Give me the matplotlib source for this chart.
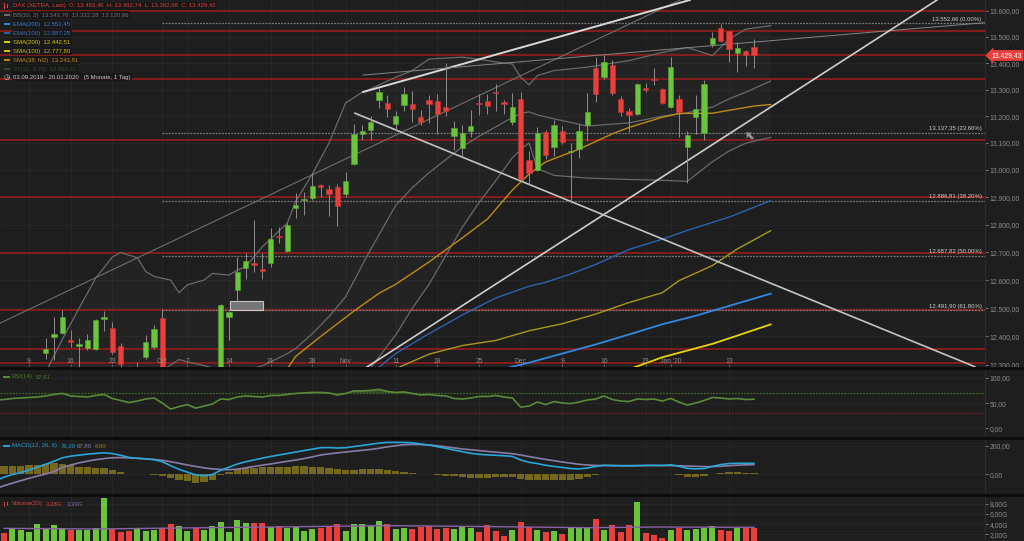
import numpy as np
import matplotlib
matplotlib.use("Agg")
import matplotlib.pyplot as plt
from matplotlib.patches import Rectangle, Polygon
from matplotlib.lines import Line2D
from matplotlib.ticker import FixedLocator, FixedFormatter, NullLocator, NullFormatter
import matplotlib.transforms as mtransforms

plt.rcParams['font.family'] = ['Liberation Sans', 'DejaVu Sans']

# ---------------- data ----------------
dates = ['03.09', '04.09', '05.09', '06.09', '09.09', '10.09', '11.09', '12.09', '13.09', '16.09',
         '17.09', '18.09', '19.09', '20.09', '23.09', '24.09', '25.09', '26.09', '27.09', '30.09',
         '01.10', '02.10', '04.10', '07.10', '08.10', '09.10', '10.10', '11.10', '14.10', '15.10',
         '16.10', '17.10', '18.10', '21.10', '22.10', '23.10', '24.10', '25.10', '28.10', '29.10',
         '30.10', '31.10', '01.11', '04.11', '05.11', '06.11', '07.11', '08.11', '11.11', '12.11',
         '13.11', '14.11', '15.11', '18.11', '19.11', '20.11', '21.11', '22.11', '25.11', '26.11',
         '27.11', '28.11', '29.11', '02.12', '03.12', '04.12', '05.12', '06.12', '09.12', '10.12',
         '11.12', '12.12', '13.12', '16.12', '17.12', '18.12', '19.12', '20.12', '23.12', '27.12',
         '30.12', '02.01', '03.01', '06.01', '07.01', '08.01', '09.01', '10.01', '13.01', '14.01',
         '15.01', '16.01']

opens = [11950, 12040, 12060, 12130, 12200, 12210, 12341, 12398, 12413, 12387,
         12368, 12360, 12357, 12462, 12431, 12367, 12285, 12240, 12328, 12363,
         12466, 12230, 11960, 12050, 12090, 11990, 12070, 12220, 12467, 12565,
         12645, 12660, 12640, 12661, 12760, 12705, 12860, 12888, 12896, 12945,
         12929, 12936, 12912, 13023, 13132, 13150, 13261, 13248, 13170, 13243,
         13244, 13198, 13262, 13258, 13235, 13126, 13082, 13144, 13250, 13256,
         13292, 13252, 13180, 13265, 13035, 13000, 13141, 13085, 13146, 13066,
         13077, 13166, 13382, 13347, 13392, 13263, 13221, 13208, 13305, 13340,
         13302, 13233, 13263, 13085, 13198, 13138, 13474, 13533, 13523, 13440,
         13446, 13463.46]
highs = [11985, 12045, 12160, 12210, 12250, 12280, 12394, 12470, 12493, 12423,
         12395, 12408, 12462, 12491, 12450, 12377, 12298, 12312, 12404, 12441,
         12496, 12250, 12040, 12150, 12120, 12110, 12200, 12515, 12490, 12684,
         12697, 12817, 12697, 12787, 12793, 12805, 12914, 12920, 12988, 12950,
         12944, 12950, 12992, 13172, 13166, 13200, 13305, 13278, 13221, 13311,
         13293, 13223, 13280, 13282, 13400, 13181, 13166, 13222, 13285, 13285,
         13321, 13262, 13289, 13290, 13070, 13158, 13150, 13185, 13165, 13099,
         13170, 13288, 13424, 13430, 13412, 13275, 13232, 13325, 13323, 13380,
         13305, 13424, 13278, 13144, 13278, 13335, 13520, 13550, 13523, 13481,
         13450, 13492.74]
lows = [11850, 11945, 12050, 12110, 12170, 12160, 12320, 12318, 12410, 12364,
        12294, 12352, 12352, 12419, 12338, 12270, 12160, 12220, 12320, 12355,
        12250, 11900, 11880, 12000, 11950, 11960, 12030, 12200, 12388, 12517,
        12604, 12630, 12604, 12648, 12732, 12700, 12823, 12834, 12890, 12900,
        12830, 12795, 12902, 13020, 13111, 13111, 13229, 13198, 13145, 13218,
        13180, 13166, 13173, 13135, 13199, 13075, 13050, 13122, 13205, 13210,
        13221, 13210, 13166, 12958, 12945, 12995, 13040, 13053, 13095, 12880,
        13046, 13108, 13255, 13340, 13280, 13200, 13141, 13205, 13290, 13318,
        13245, 13230, 13122, 12952, 13135, 13111, 13463, 13480, 13405, 13365,
        13390, 13382.98]
closes = [11910, 12025, 12126, 12192, 12226, 12268, 12357, 12410, 12468, 12380,
          12374, 12389, 12457, 12468, 12344, 12303, 12234, 12288, 12381, 12427,
          12263, 11925, 12013, 12097, 11970, 12094, 12164, 12511, 12486, 12630,
          12670, 12654, 12633, 12747, 12754, 12798, 12872, 12895, 12941, 12939,
          12910, 12866, 12960, 13135, 13145, 13178, 13290, 13228, 13200, 13282,
          13228, 13180, 13244, 13207, 13221, 13157, 13138, 13163, 13246, 13237,
          13288, 13245, 13235, 12965, 12988, 13138, 13057, 13166, 13104, 13071,
          13143, 13217, 13284, 13406, 13289, 13216, 13205, 13320, 13300, 13337,
          13249, 13385, 13216, 13128, 13228, 13322, 13497, 13484, 13453, 13456,
          13431, 13429.43]

# volume (G), trading days 1..91
volumes = [2.33, 3.18, 2.92, 2.53, 3.97, 3.11, 3.84, 3.25, 2.92, 2.92,
           2.79, 3.31, 9.22, 2.98, 2.39, 2.66, 2.98, 2.66, 2.85, 3.18,
           4.10, 3.64, 2.66, 3.18, 2.79, 3.57, 4.49, 2.39, 4.89, 4.23,
           4.30, 4.30, 3.44, 3.57, 3.31, 3.71, 2.66, 2.98, 3.18, 3.44,
           4.10, 2.66, 3.97, 3.97, 3.71, 4.62, 4.10, 3.11, 3.25, 3.05,
           3.51, 3.57, 3.05, 3.18, 3.11, 3.51, 3.31, 2.39, 3.84, 2.66,
           1.61, 2.85, 4.49, 3.51, 2.92, 2.53, 2.66, 2.01, 3.51, 3.18,
           3.44, 4.95, 2.85, 3.84, 2.53, 3.84, 8.30, 2.20, 1.87, 1.21,
           2.92, 3.18, 2.92, 2.98, 3.25, 3.57, 2.92, 2.66, 3.18, 3.18,
           3.18]
volma_idx = [1, 12, 22, 33, 47, 60, 71, 79, 91]
volma_val = [3.18, 3.05, 3.25, 3.44, 3.71, 3.51, 3.31, 3.44, 3.39]

rsi = [56, 57, 59, 60, 61, 62, 64, 67, 69, 64, 63, 62, 65, 67, 59, 55, 51, 54, 58, 60,
       50, 38, 43, 47, 40, 44, 48, 58, 57, 62, 64, 63, 62, 65, 65, 67, 69, 70, 71, 71,
       70, 66, 69, 74, 74, 75, 77, 73, 71, 72, 69, 66, 67, 65, 64, 59, 58, 60, 63, 63,
       65, 62, 60, 42, 44, 52, 47, 53, 50, 49, 52, 56, 58, 64, 57, 54, 53, 58, 57, 58,
       54, 59, 52, 46, 50, 55, 61, 60, 58, 59, 57, 57.61]

macd = [-45, -20, -2, 12, 30, 50, 70, 92, 115, 127, 134, 141, 146, 151, 145, 133, 118, 112, 108, 102,
        88, 60, 35, 15, -4, -10, -2, 28, 50, 72, 88, 100, 113, 125, 135, 145, 156, 166, 176, 186,
        187, 184, 186, 194, 202, 210, 218, 223, 223, 223, 220, 212, 205, 193, 182, 170, 158, 147, 140, 136,
        133, 130, 125, 100, 84, 75, 63, 55, 48, 40, 38, 44, 55, 63, 62, 60, 60, 61, 62, 63,
        62, 66, 56, 42, 38, 40, 55, 68, 75, 77, 77, 76.39]
signal = [-100, -80, -62, -45, -28, -12, 2, 20, 48, 65, 80, 92, 102, 110, 116, 117, 115, 112, 108, 104,
          98, 88, 77, 65, 55, 45, 38, 34, 32, 36, 45, 55, 64, 72, 82, 91, 100, 110, 122, 135,
          143, 150, 156, 162, 168, 174, 182, 192, 200, 207, 209, 208, 205, 200, 192, 185, 177, 172, 166, 160,
          155, 150, 144, 135, 124, 114, 104, 95, 86, 78, 70, 65, 62, 61, 60, 60, 60, 60, 61, 61,
          61, 61, 60, 58, 56, 54, 54, 56, 60, 64, 66, 67.80]
hist = [55, 60, 60, 57, 62, 68, 74, 76, 74, 68, 54, 49, 44, 41, 29, 16, 3, 0, 0, -2,
        -10, -28, -42, -50, -59, -55, -40, -6, 18, 36, 43, 45, 49, 53, 53, 54, 56, 56, 54, 51,
        44, 34, 30, 32, 34, 36, 36, 31, 23, 16, 11, 4, 0, -7, -10, -15, -19, -25, -26, -24,
        -22, -20, -19, -35, -40, -39, -41, -40, -38, -38, -32, -21, -7, 2, 2, 0, 0, 1, 1, 2,
        1, 5, -4, -16, -18, -14, 1, 12, 15, 13, 11, 8.60]

# moving averages (trading-day index, value)
sma38_idx = [35, 36, 39, 43, 46, 48, 52, 56, 59, 62, 64, 66, 70, 74, 76, 80, 82, 86, 88, 91, 93]
sma38_val = [12287, 12330, 12400, 12490, 12553, 12585, 12665, 12752, 12820, 12926, 12985, 13030,
             13077, 13134, 13158, 13196, 13210, 13211, 13222, 13238, 13243.81]
sma100_idx = [48, 52, 56, 60, 64, 68, 72, 76, 80, 82, 86, 89, 93]
sma100_val = [12287, 12338, 12368, 12386, 12420, 12445, 12479, 12520, 12555, 12598, 12652, 12712, 12777.80]
sma200_idx = [76, 80, 86, 89, 93]
sma200_val = [12285, 12327, 12374, 12403, 12442.51]
ema200_idx = [60, 62, 64, 68, 72, 76, 80, 84, 88, 93]
ema200_val = [12278, 12294, 12308, 12340, 12372, 12407, 12443, 12473, 12508, 12551.45]
ema100_idx = [45, 46, 48, 52, 56, 60, 64, 66, 69, 72, 76, 80, 83, 86, 88, 93]
ema100_val = [12280, 12292, 12340, 12410, 12476, 12536, 12578, 12592, 12622, 12656, 12710, 12747,
              12779, 12808, 12827, 12887.25]

bb_idx = [1, 4, 6, 8, 10, 12, 14, 15, 17, 18, 19, 21, 22, 23, 25, 26, 28, 29, 30, 32, 35, 36, 38,
          40, 42, 44, 45, 48, 50, 52, 56, 58, 60, 62, 63, 64, 65, 67, 71, 76, 80, 83, 86, 88, 90, 93]
bb_upper = [12150, 12230, 12275, 12390, 12500, 12607, 12683, 12699, 12680, 12631, 12613, 12600, 12555,
            12583, 12600, 12624, 12618, 12636, 12648, 12720, 12806, 12885, 12985, 13100, 13250, 13290,
            13303, 13347, 13372, 13416, 13423, 13415, 13405, 13397, 13347, 13318, 13353, 13372, 13385,
            13410, 13441, 13460, 13429, 13492, 13530, 13543.70]
bb_middle = [11900, 11930, 11960, 12000, 12060, 12110, 12160, 12185, 12225, 12240, 12265, 12300, 12319,
             12311, 12298, 12290, 12278, 12278, 12282, 12297, 12340, 12358, 12410, 12470, 12541, 12655,
             12710, 12870, 12935, 12990, 13086, 13125, 13160, 13195, 13210, 13216, 13205, 13190, 13163,
             13175, 13200, 13213, 13234, 13265, 13290, 13332.28]
bb_lower = [11600, 11620, 11650, 11670, 11700, 11740, 11800, 11820, 11860, 11880, 11900, 11950, 11980,
            11990, 11960, 11950, 11940, 11930, 11925, 11930, 11960, 11980, 12040, 12100, 12150, 12240,
            12290, 12405, 12500, 12585, 12790, 12880, 12960, 13045, 13075, 13100, 13005, 12980, 12970,
            12965, 12962, 12958, 13030, 13070, 13099, 13120.86]

red_levels = [13600, 13524, 13431, 13339, 13110, 12900, 12697, 12494, 12356, 12307]
fib_levels = [13552.66, 13137.35, 12886.81, 12687.82, 12491.90]
fib_pcts = ['0.00%', '23.60%', '38.20%', '50.00%', '61.80%']
fib_start = 20

# trend lines: (index, price) endpoints
trend_lines = [
    ((0.52, 12447), (82.12, 13642.5), '#6e6e6e', 0.8),
    ((44.1, 13291), (83.3, 13642.5), '#d8d8d8', 1.4),
    ((44.1, 13355), (118.7, 13555), '#858585', 0.7),
    ((44.4, 12290), (112.96, 13642.5), '#cfcfcf', 1.2),
    ((43.12, 13211), (117.5, 12294), '#c4c4c4', 1.2),
]

tick_idx = [4, 9, 14, 20, 23, 28, 33, 38, 42, 48, 53, 58, 63, 68, 73, 78, 81, 88]
tick_labels = ['9', '16', '23', 'Oct', '7', '14', '21', '28', 'Nov', '11', '18', '25', 'Dec', '9',
               '16', '23', "Jan '20", '13']
price_ticks = [12300, 12400, 12500, 12600, 12700, 12800, 12900, 13000, 13100, 13200, 13300, 13400,
               13500, 13600]


def de(v, nd=2):
    s = f"{v:,.{nd}f}"
    return s.replace(',', 'X').replace('.', ',').replace('X', '.')


# ---------------- figure ----------------
W, H = 1024, 541
BG = '#1e1e1e'
GRID = '#282828'
TXT = '#8c8c8c'
fig = plt.figure(figsize=(W / 100, H / 100), dpi=100, facecolor=BG)


def fy(py):
    return 1 - py / H


def add_axes(top_px, bot_px):
    a = fig.add_axes([0, fy(bot_px), 985 / W, (bot_px - top_px) / H])
    a.set_facecolor(BG)
    for s in ['top', 'left', 'bottom']:
        a.spines[s].set_visible(False)
    a.spines['right'].set_color('#2e2e2e')
    a.spines['right'].set_linewidth(0.8)
    a.set_xlim(0.516, 118.72)
    a.yaxis.tick_right()
    a.tick_params(axis='y', colors=TXT, labelsize=4.85, length=2, width=0.6, pad=1.5)
    a.set_xticks(tick_idx)
    a.tick_params(axis='x', direction='in', length=0, labelbottom=False)
    for t in tick_idx:
        a.axvline(t, color=GRID, lw=0.6, zorder=0)
    return a


ax = add_axes(0, 367)
ax_rsi = add_axes(369.5, 436)
ax_macd = add_axes(439, 493.3)
ax_vol = add_axes(496, 541)

idx = np.arange(len(closes))
o = np.array(opens, float)
c = np.array(closes, float)
h = np.array(highs, float)
l = np.array(lows, float)
up = c >= o

# ---- main price panel ----
ax.set_yscale('log')
ax.set_ylim(12293, 13642.5)
ax.yaxis.set_major_locator(FixedLocator(price_ticks))
ax.yaxis.set_major_formatter(FixedFormatter([de(v) for v in price_ticks]))
ax.yaxis.set_minor_locator(NullLocator())
ax.yaxis.set_minor_formatter(NullFormatter())
ax.tick_params(axis='x', direction='in', length=2, color='#6a6a6a', width=0.6)
for p in price_ticks:
    ax.axhline(p, color=GRID, lw=0.6, zorder=0)

# bollinger fill + lines
ax.fill_between(bb_idx, bb_lower, bb_upper, color='#ffffff', alpha=0.025, lw=0, zorder=1)
for band in (bb_upper, bb_middle, bb_lower):
    ax.plot(bb_idx, band, color='#6a6a6a', lw=0.9, zorder=3)

for lv in red_levels:
    ax.axhline(lv, color='#a01c1c', lw=1.1, zorder=2)

for lv, pc in zip(fib_levels, fib_pcts):
    ax.plot([fib_start, 118.72], [lv, lv], color='#7a7a7a', lw=0.9, ls=(0, (1.5, 1)), zorder=2)
    ax.annotate(f"{de(lv)} ({pc})", xy=(1.0, lv), xycoords=('axes fraction', 'data'),
                xytext=(-2.5, 1.2), textcoords='offset points', ha='right', va='bottom',
                fontsize=4.3, color='#cfcfcf', zorder=7)

ax.plot(sma200_idx, sma200_val, color='#e6d600', lw=1.3, zorder=3)
ax.plot(sma100_idx, sma100_val, color='#a89a1e', lw=1.0, zorder=3)
ax.plot(ema200_idx, ema200_val, color='#2f8ae0', lw=1.3, zorder=3)
ax.plot(ema100_idx, ema100_val, color='#2b64ad', lw=1.0, zorder=3)
ax.plot(sma38_idx, sma38_val, color='#c08a18', lw=1.0, zorder=3)

for (x1, p1), (x2, p2), col, lw in trend_lines:
    ax.plot([x1, x2], [p1, p2], color=col, lw=lw, zorder=4)

# grey marked box
ax.add_patch(Rectangle((28.1, 12493), 4.0, 31, facecolor='#8a8a8a', edgecolor='#e0e0e0',
                       lw=0.8, alpha=0.8, zorder=4))

# candles
ax.vlines(idx, l, h, color='#8e8e8e', lw=0.7, zorder=5)
bottoms = np.minimum(o, c)
heights = np.maximum(np.abs(c - o), 3.0)
ax.bar(idx, heights, bottom=bottoms, width=0.66,
       color=np.where(up, '#6cc43c', '#e8413d'),
       edgecolor=np.where(up, '#5aa832', '#c63232'), linewidth=0.4, zorder=6)

blend = mtransforms.blended_transform_factory(ax.transData, ax.transAxes)
for t, lab in zip(tick_idx, tick_labels):
    ax.text(t, 0.016, lab, transform=blend, ha='center', va='center', fontsize=4.85,
            color=TXT, zorder=8)

ax.annotate(de(closes[-1]), xy=(1.0, closes[-1]), xycoords=('axes fraction', 'data'),
            xytext=(4.5, 0), textcoords='offset points', ha='left', va='center',
            fontsize=4.85, color='white', annotation_clip=False, zorder=10,
            bbox=dict(boxstyle='larrow,pad=0.28', fc='#e8403c', ec='none'))

# cursor arrow
shape = np.array([[0, 0], [-4, 5], [-1.5, 5], [-1.5, 10], [1.5, 10], [1.5, 5], [4, 5]], float)
th = np.deg2rad(-45)
rot = np.array([[np.cos(th), -np.sin(th)], [np.sin(th), np.cos(th)]])
pts = shape @ rot.T + np.array([746, 132])
fig.add_artist(Polygon(np.column_stack([pts[:, 0] / W, 1 - pts[:, 1] / H]), closed=True,
                       transform=fig.transFigure, facecolor='#9a9a9a', edgecolor='#4a4a4a', lw=0.6))

# ---- RSI ----
ax_rsi.set_ylim(-15.1, 116.3)
ax_rsi.set_yticks([0, 50, 100])
ax_rsi.set_yticklabels([de(v) for v in [0, 50, 100]])
for v in [0, 50, 100]:
    ax_rsi.axhline(v, color=GRID, lw=0.6, zorder=0)
ax_rsi.axhline(70, color='#3d6a28', lw=0.9, ls=(0, (1.5, 1)), zorder=1)
ax_rsi.axhline(30, color='#6a2222', lw=0.9, ls=(0, (1.5, 1)), zorder=1)
rsi_a = np.array(rsi, float)
ax_rsi.fill_between(idx, 70, rsi_a, where=rsi_a > 70, interpolate=True, color='#4f7a30', alpha=0.5, lw=0)
ax_rsi.plot(idx, rsi_a, color='#5b8a3a', lw=1.2, zorder=3)

# ---- MACD ----
ax_macd.set_ylim(-133, 247)
ax_macd.set_yticks([0, 200])
ax_macd.set_yticklabels([de(v) for v in [0, 200]])
for v in [0, 200]:
    ax_macd.axhline(v, color=GRID, lw=0.6, zorder=0)
ax_macd.bar(idx, hist, width=0.9, color='#74681f', zorder=2)
ax_macd.plot(idx, signal, color='#8a7ca6', lw=1.2, zorder=3)
ax_macd.plot(idx, macd, color='#2aa6d8', lw=1.2, zorder=4)

# ---- Volume ----
vidx = np.arange(1, 1 + len(volumes))
ax_vol.set_ylim(0.69, 9.55)
vt = [2, 4, 6, 8]
ax_vol.set_yticks(vt)
ax_vol.set_yticklabels([de(v) + 'G' for v in vt])
for v in vt:
    ax_vol.axhline(v, color=GRID, lw=0.6, zorder=0)
ax_vol.bar(vidx, volumes, width=0.72, bottom=0,
           color=np.where(up[1:], '#6cc43c', '#e8413d'), zorder=2)
ax_vol.plot(volma_idx, volma_val, color='#8a62a8', lw=1.0, zorder=3)

# separators
for ypx in [368.2, 437.6, 494.7]:
    fig.add_artist(Line2D([0, 1], [fy(ypx), fy(ypx)], transform=fig.transFigure,
                          color='#0b0b0b', lw=2.0))

# ---------------- legend texts ----------------
LFS = 4.3
box = dict(boxstyle='square,pad=0.25', fc='#161616', ec='none', alpha=0.85)


def ftext(xpx, ypx, s, color, fs=LFS, bbox=None):
    return fig.text(xpx / W, fy(ypx), s, ha='left', va='center', fontsize=fs, color=color,
                    bbox=bbox, zorder=12)


def dash(xpx, ypx, color):
    fig.add_artist(Line2D([xpx / W, (xpx + 4.5) / W], [fy(ypx), fy(ypx)],
                          transform=fig.transFigure, color=color, lw=1.4, zorder=12))


def candle_icon(xpx, ypx, color):
    for dx, hh in [(0, 5), (3, 3.5)]:
        fig.add_artist(Rectangle(((xpx + dx) / W, fy(ypx + hh / 2)), 1.8 / W, hh / H,
                                 transform=fig.transFigure, fc=color, ec='none', zorder=12))


candle_icon(3.5, 6, '#e8403c')
ftext(13, 6, "DAX (XETRA, Last)  O: 13.463,46  H: 13.492,74  L: 13.382,98  C: 13.429,43",
      '#e0403a', bbox=box)
legend_rows = [
    ("BB(20, 2)  13.543,70  13.332,28  13.120,86", '#707070', '#707070'),
    ("EMA(200)  12.551,45", '#3a82d0', '#2f8ae0'),
    ("EMA(100)  12.887,25", '#3a72c0', '#2b64ad'),
    ("SMA(200)  12.442,51", '#d8c800', '#e6d600'),
    ("SMA(100)  12.777,80", '#c8ba10', '#d8c800'),
    ("SMA(38, hl2)  13.243,81", '#c08a18', '#c08a18'),
    ("ST(21, 3.75)  12.969,32", '#2e4a28', '#2e4a28'),
]
for k, (s, tc, dc) in enumerate(legend_rows):
    y = 15.3 + 9 * k
    dash(4.5, y, dc)
    ftext(13, y, s, tc, bbox=box)
fig.text(4 / W, fy(77.3), '\u25f7', ha='left', va='center', fontsize=5.2, color='#c8c8c8',
         family=['DejaVu Sans'], zorder=12)
ftext(13, 77.3, "03.09.2019 - 20.01.2020   (5 Monate, 1 Tag)", '#c8c8c8', bbox=box)

# lower panel legends
dash(4, 376.5, '#5b8a3a')
ftext(12, 376.5, "RSI(14)", '#4f7a30')
ftext(36, 376.5, "57,61", '#4f7a30')

dash(4, 446, '#2aa6d8')
ftext(12, 446, "MACD(12, 26, 9)", '#2a98c8')
ftext(61, 446, "76,39", '#2a98c8')
ftext(77, 446, "67,80", '#8a7ca6')
ftext(95, 446, "8,60", '#8a7a28')

candle_icon(3.5, 504, '#d94040')
ftext(12, 504, "Volume(20)", '#d94040')
ftext(46, 504, "3,28G", '#d94040')
ftext(67, 504, "3,39G", '#8a62a8')

fig.savefig('out.png', dpi=100, facecolor=BG)
